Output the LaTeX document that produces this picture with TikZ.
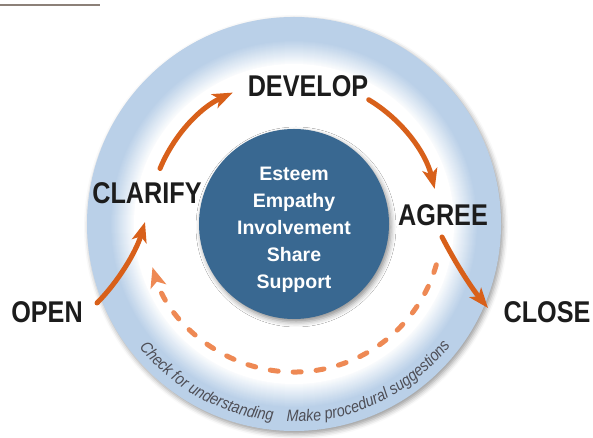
\documentclass[tikz,border=0pt]{standalone}
\usepackage{fontspec}
\setmainfont{Liberation Sans}
\newfontfamily\labfont[FakeStretch=0.84]{Liberation Sans}
\newfontfamily\ringfont[FakeStretch=0.87]{Liberation Sans}
\usetikzlibrary{arrows.meta,shadows.blur,decorations.text}
\definecolor{ringblue}{RGB}{186,208,232}
\definecolor{discblue}{RGB}{57,104,145}
\definecolor{sorange}{RGB}{216,96,26}
\definecolor{dorange}{RGB}{238,137,84}
\definecolor{labelblack}{RGB}{28,28,28}
\definecolor{ringtext}{RGB}{78,78,86}
\definecolor{toplinecol}{RGB}{140,128,120}
\begin{document}
\begin{tikzpicture}[x=1pt,y=1pt,
  lab/.style={font=\labfont\bfseries\fontsize{30}{30}\selectfont, text=labelblack, inner sep=0pt},
  core/.style={circle, fill=discblue, minimum size=190pt, inner sep=0pt,
    blur shadow={shadow xshift=2pt, shadow yshift=-3pt, shadow blur radius=5pt, shadow opacity=45}},
  coretext/.style={text=white, align=center, inner sep=0pt, font=\bfseries\fontsize{19.5}{27}\selectfont},
  sarrow/.style={draw=sorange, line width=5pt, line cap=round, -{Stealth[length=20pt,width=15pt,inset=5pt]}},
  darrow/.style={draw=dorange, line width=5pt, line cap=round, dash pattern=on 8pt off 15pt, -{Stealth[length=20pt,width=16pt,inset=5pt]}},
  ringlabel/.style={decorate, decoration={text along path, text align=center, text color=ringtext}}
]
\useasboundingbox (0,0) rectangle (593,438);
\coordinate (ctr) at (294,214);
% top rule
\coordinate (tl1) at (0,433);
\coordinate (tl2) at (100,433);
\draw[toplinecol, line width=2pt] (tl1) -- (tl2);
% ring
\fill[ringblue, blur shadow={shadow xshift=2pt, shadow yshift=-3pt, shadow blur radius=5pt, shadow opacity=40}] (ctr) circle (207);
\foreach \i in {0,...,24}{
  \pgfmathtruncatemacro{\pc}{100-\i*4}
  \fill[ringblue!\pc!white] (ctr) circle ({184-\i});
}
\fill[white] (ctr) circle (160);
% core disc
\node[core] (disc) at (ctr) {};
\node[coretext] (coretxt) at (294,208.5) {Esteem\\Empathy\\Involvement\\Share\\Support};
% labels
\node[lab] (open) at (47,126) {OPEN};
\node[lab] (clarify) at (147,245) {CLARIFY};
\node[lab] (develop) at (308,352) {DEVELOP};
\node[lab] (agree) at (443,223) {AGREE};
\node[lab] (close) at (547,126) {CLOSE};
% solid arrows
\coordinate (a1s) at (97,135);
\coordinate (a1e) at (145,216);
\draw[sarrow] (a1s) .. controls (118,156) and (136,186) .. (a1e);
\path (ctr) ++(157.5:145) coordinate (a2s);
\draw[sarrow] (a2s) arc[start angle=157.5, end angle=115, radius=145];
\path (ctr) ++(59:145) coordinate (a3s);
\draw[sarrow] (a3s) arc[start angle=59, end angle=14, radius=145];
\coordinate (a4s) at (442,201);
\coordinate (a4e) at (488,130);
\draw[sarrow] (a4s) .. controls (455,176) and (470,152) .. (a4e);
% dashed return arrow
\path (ctr) ++(-16:148) coordinate (ds);
\draw[darrow] (ds) arc[start angle=-16, end angle=-163, radius=148];
% ring texts
\path (ctr) ++(-150:198) coordinate (t1s);
\path[ringlabel, decoration={text={|\ringfont\itshape\fontsize{16.5}{16.5}\selectfont|Check for understanding}}] (t1s) arc[start angle=-150, end angle=-87.6, radius=198];
\path (ctr) ++(-100:198) coordinate (t2s);
\path[ringlabel, decoration={text={|\ringfont\itshape\fontsize{16.5}{16.5}\selectfont|Make procedural suggestions}}] (t2s) arc[start angle=-100, end angle=-30, radius=198];
\end{tikzpicture}
\end{document}
